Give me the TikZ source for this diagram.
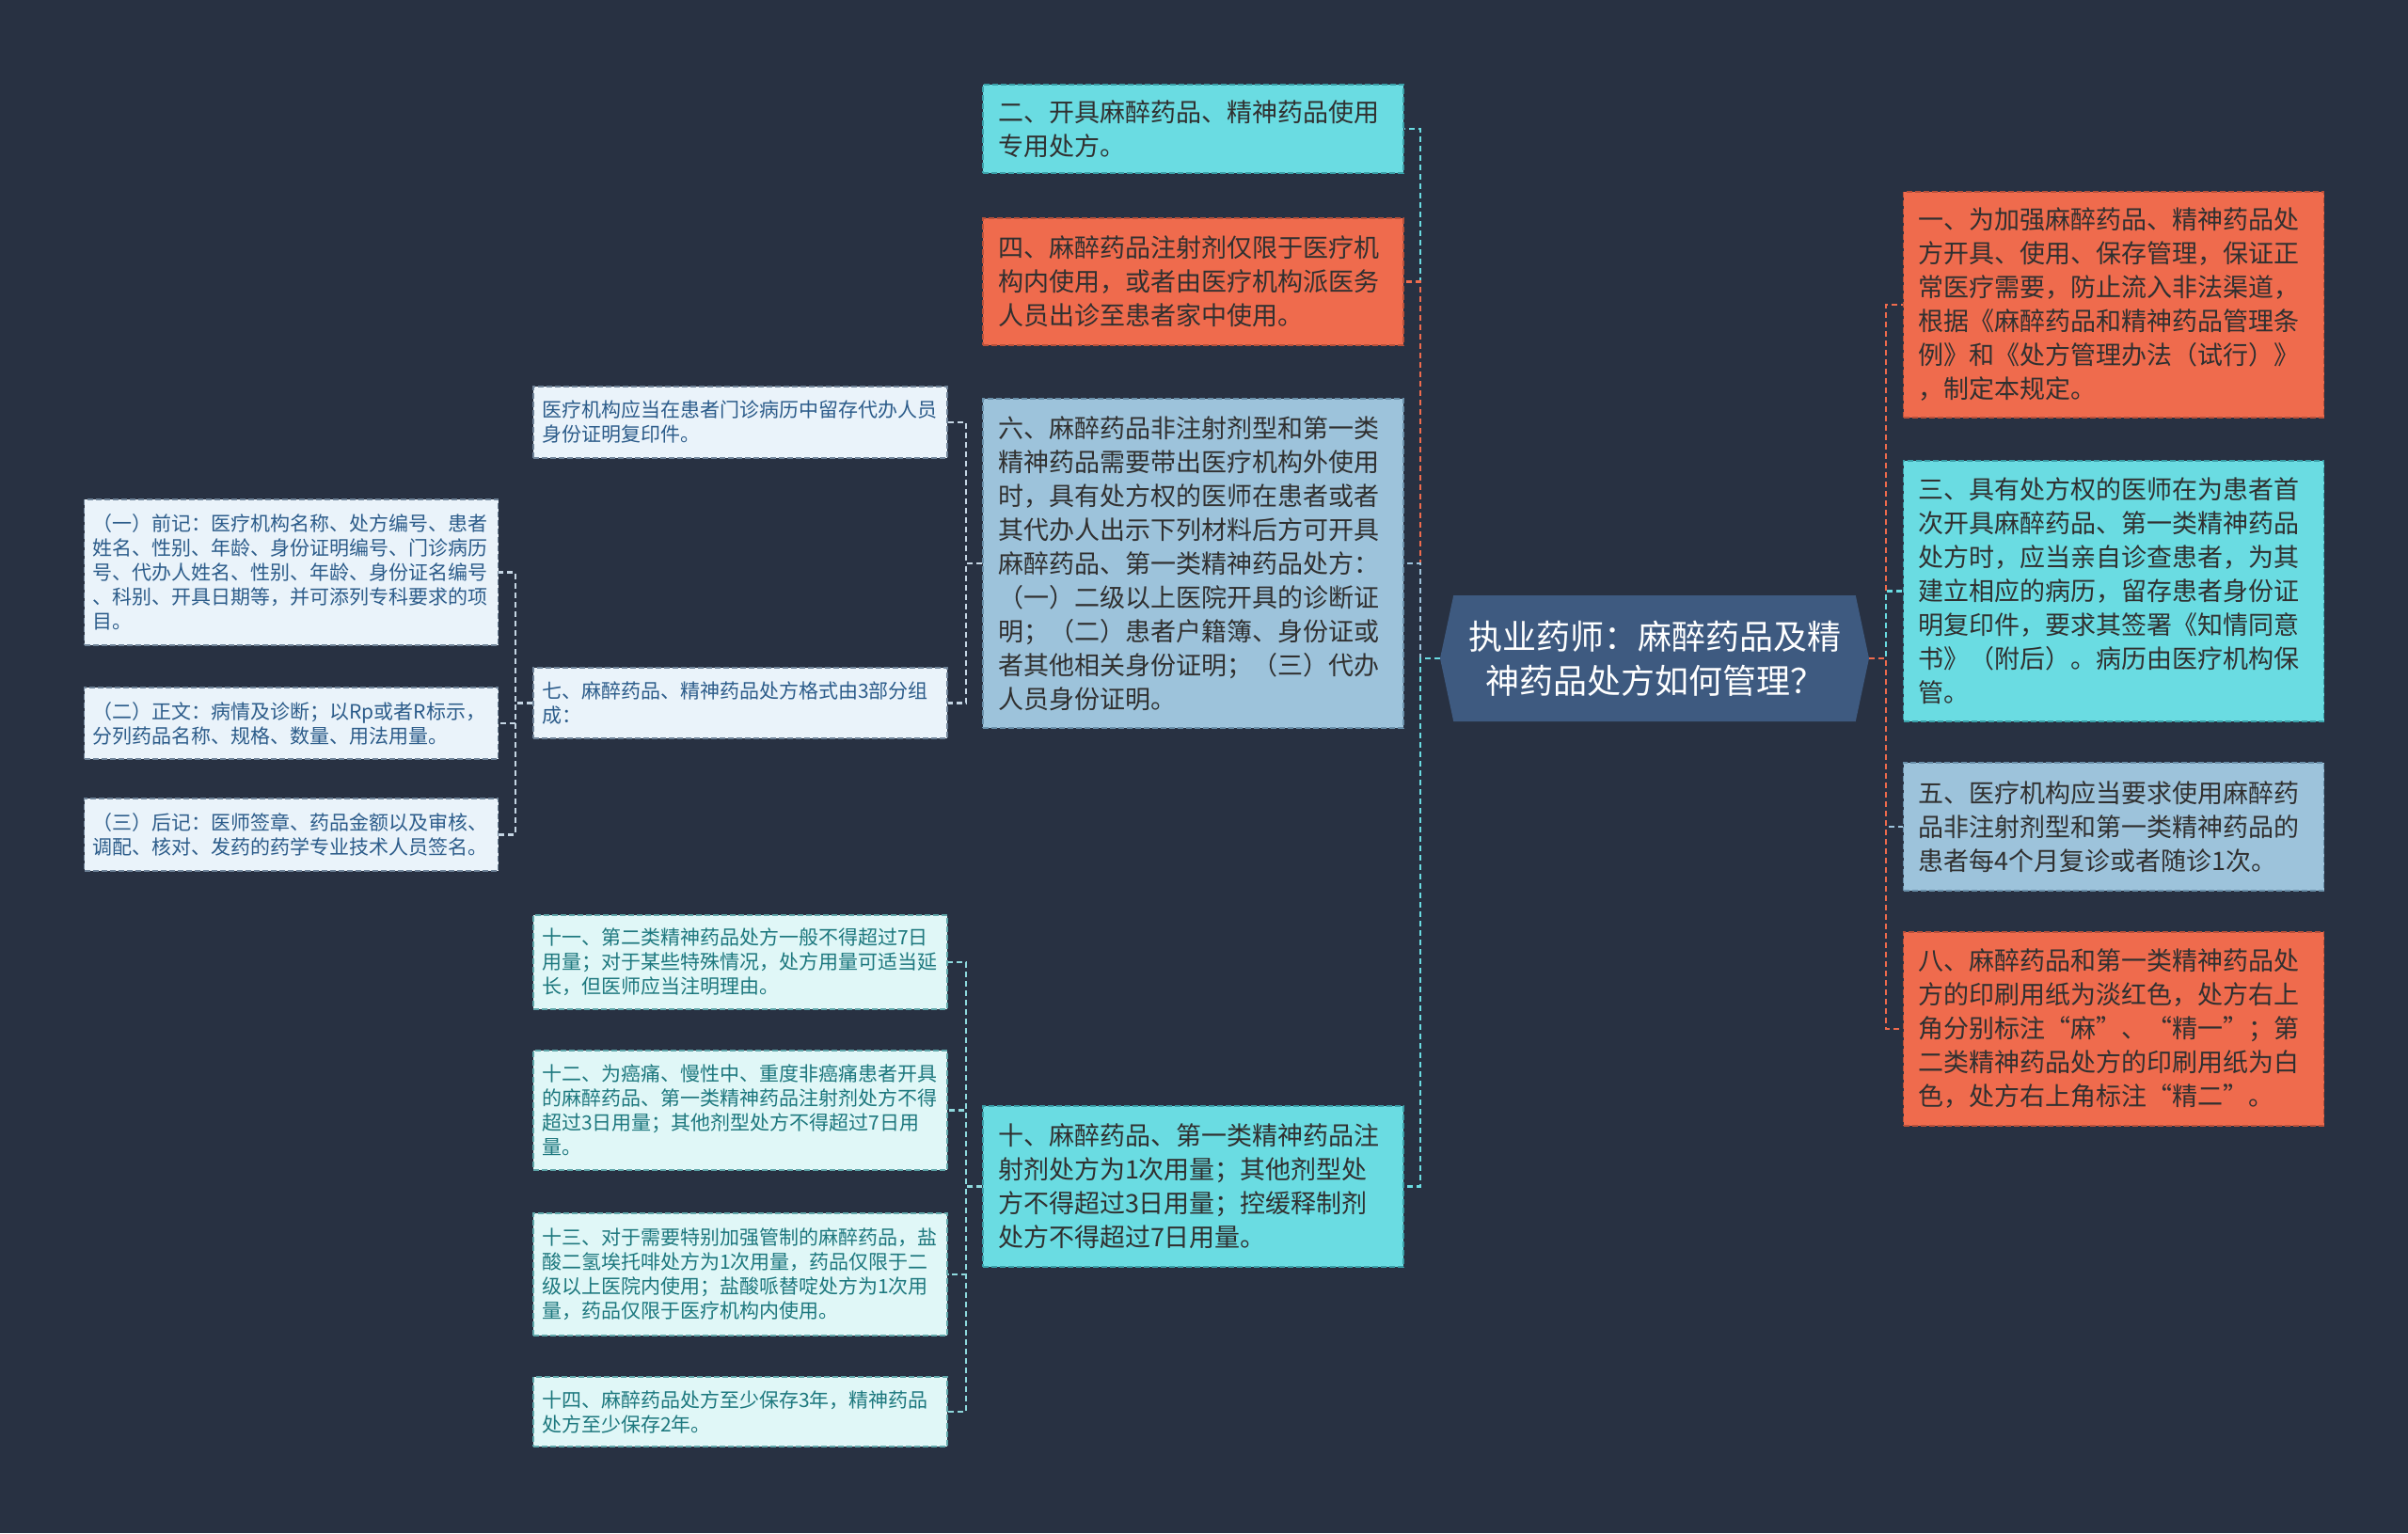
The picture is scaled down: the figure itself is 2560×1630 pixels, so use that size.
\documentclass[tikz,border=0pt]{standalone}
\usepackage{fontspec}
\newfontfamily\cjk{Noto Sans CJK SC}
\usetikzlibrary{shapes.symbols}
\definecolor{bg}{HTML}{283142}
\definecolor{rootfill}{HTML}{3E5A80}
\definecolor{orangefill}{HTML}{EF6B4D}
\definecolor{orangeedge}{HTML}{B8503A}
\definecolor{cyanfill}{HTML}{6ADCE2}
\definecolor{cyanedge}{HTML}{3A9FA8}
\definecolor{bluefill}{HTML}{9DC3DB}
\definecolor{blueedge}{HTML}{6A90AA}
\definecolor{palefill}{HTML}{EAF3FA}
\definecolor{paleedge}{HTML}{6F8398}
\definecolor{paletext}{HTML}{2C5C8A}
\definecolor{mintfill}{HTML}{E0F7F7}
\definecolor{mintedge}{HTML}{5FA7AA}
\definecolor{minttext}{HTML}{1D787E}
\definecolor{darktext}{HTML}{303030}
\definecolor{paleline}{HTML}{C6D6E4}
\definecolor{mintline}{HTML}{8FD9DD}
\begin{document}
\begin{tikzpicture}[x=0.5pt,y=-0.5pt,
    box/.style={draw, dash pattern=on 3pt off 1.5pt, line width=0.7pt, inner sep=0pt, align=left},
    big/.style={box, minimum width=223.5pt, text width=207.5pt, text=darktext, font=\cjk\fontsize{13.5pt}{18pt}\selectfont},
    small/.style={box, minimum width=220pt, text width=211pt, font=\cjk\fontsize{10.5pt}{13pt}\selectfont},
    orangebox/.style={big, fill=orangefill, draw=orangeedge},
    cyanbox/.style={big, fill=cyanfill, draw=cyanedge},
    bluebox/.style={big, fill=bluefill, draw=blueedge},
    palebox/.style={small, fill=palefill, draw=paleedge, text=paletext},
    mintbox/.style={small, fill=mintfill, draw=mintedge, text=minttext},
    rootbox/.style={shape=signal, signal to=west and east, signal pointer angle=156, fill=rootfill, text=white, align=center, inner sep=0pt, minimum width=228pt, minimum height=67pt, font=\cjk\fontsize{18pt}{23.5pt}\selectfont},
    conn/.style={dash pattern=on 3pt off 2pt, line width=1.4pt}]
    \fill[bg] (0,0) rectangle (2560,1630);
    \useasboundingbox (0,0) rectangle (2560,1630);

    \node[rootbox] (root) at (1759,700) {执业药师：麻醉药品及精\\神药品处方如何管理？};

    \node[cyanbox, minimum height=47pt] (b2) at (1268.5,137) {二、开具麻醉药品、精神药品使用\\专用处方。};
    \node[orangebox, minimum height=67.5pt] (b4) at (1268.5,299.5) {四、麻醉药品注射剂仅限于医疗机\\构内使用，或者由医疗机构派医务\\人员出诊至患者家中使用。};
    \node[bluebox, minimum height=175pt] (b6) at (1268.5,599) {六、麻醉药品非注射剂型和第一类\\精神药品需要带出医疗机构外使用\\时，具有处方权的医师在患者或者\\其代办人出示下列材料后方可开具\\麻醉药品、第一类精神药品处方：\\（一）二级以上医院开具的诊断证\\明；（二）患者户籍簿、身份证或\\者其他相关身份证明；（三）代办\\人员身份证明。};
    \node[cyanbox, minimum height=85.5pt] (b10) at (1268.5,1261.5) {十、麻醉药品、第一类精神药品注\\射剂处方为1次用量；其他剂型处\\方不得超过3日用量；控缓释制剂\\处方不得超过7日用量。};

    \node[orangebox, minimum height=120pt] (b1) at (2247,324) {一、为加强麻醉药品、精神药品处\\方开具、使用、保存管理，保证正\\常医疗需要，防止流入非法渠道，\\根据《麻醉药品和精神药品管理条\\例》和《处方管理办法（试行）》\\，制定本规定。};
    \node[cyanbox, minimum height=138.5pt] (b3) at (2247,628.5) {三、具有处方权的医师在为患者首\\次开具麻醉药品、第一类精神药品\\处方时，应当亲自诊查患者，为其\\建立相应的病历，留存患者身份证\\明复印件，要求其签署《知情同意\\书》（附后）。病历由医疗机构保\\管。};
    \node[bluebox, minimum height=68pt] (b5) at (2247,879) {五、医疗机构应当要求使用麻醉药\\品非注射剂型和第一类精神药品的\\患者每4个月复诊或者随诊1次。};
    \node[orangebox, minimum height=103pt] (b8) at (2247,1094) {八、麻醉药品和第一类精神药品处\\方的印刷用纸为淡红色，处方右上\\角分别标注“麻”、“精一”；第\\二类精神药品处方的印刷用纸为白\\色，处方右上角标注“精二”。};

    \node[palebox, minimum height=38pt] (c1) at (787,449) {医疗机构应当在患者门诊病历中留存代办人员\\身份证明复印件。};
    \node[palebox, minimum height=37.5pt] (b7) at (787,747.5) {七、麻醉药品、精神药品处方格式由3部分组\\成：};
    \node[mintbox, minimum height=50pt] (b11) at (787,1023) {十一、第二类精神药品处方一般不得超过7日\\用量；对于某些特殊情况，处方用量可适当延\\长，但医师应当注明理由。};
    \node[mintbox, minimum height=63.5pt] (b12) at (787,1180.5) {十二、为癌痛、慢性中、重度非癌痛患者开具\\的麻醉药品、第一类精神药品注射剂处方不得\\超过3日用量；其他剂型处方不得超过7日用\\量。};
    \node[mintbox, minimum height=65pt] (b13) at (787,1355) {十三、对于需要特别加强管制的麻醉药品，盐\\酸二氢埃托啡处方为1次用量，药品仅限于二\\级以上医院内使用；盐酸哌替啶处方为1次用\\量，药品仅限于医疗机构内使用。};
    \node[mintbox, minimum height=37pt] (b14) at (787,1501) {十四、麻醉药品处方至少保存3年，精神药品\\处方至少保存2年。};

    \node[palebox, minimum height=77.5pt] (d1) at (309.5,608.5) {（一）前记：医疗机构名称、处方编号、患者\\姓名、性别、年龄、身份证明编号、门诊病历\\号、代办人姓名、性别、年龄、身份证名编号\\、科别、开具日期等，并可添列专科要求的项\\目。};
    \node[palebox, minimum height=38pt] (d2) at (309.5,769) {（二）正文：病情及诊断；以Rp或者R标示，\\分列药品名称、规格、数量、用法用量。};
    \node[palebox, minimum height=38.5pt] (d3) at (309.5,887.5) {（三）后记：医师签章、药品金额以及审核、\\调配、核对、发药的药学专业技术人员签名。};

    \coordinate (tl) at (1510,700);
    \coordinate (tr) at (2005,700);
    \coordinate (t6) at (1027,599);
    \coordinate (t10) at (1027,1261.5);
    \coordinate (t7) at (548,747.5);

    \draw[conn, cyanfill] (root.west) -- (tl) |- (b2);
    \draw[conn, orangefill] (root.west) -- (tl) |- (b4);
    \draw[conn, bluefill] (root.west) -- (tl) |- (b6);
    \draw[conn, cyanfill] (root.west) -- (tl) |- (b10);

    \draw[conn, orangefill] (root.east) -- (tr) |- (b1);
    \draw[conn, cyanfill] (root.east) -- (tr) |- (b3);
    \draw[conn, bluefill] (root.east) -- (tr) |- (b5);
    \draw[conn, orangefill] (root.east) -- (tr) |- (b8);

    \draw[conn, paleline] (b6.west) -- (t6) |- (c1);
    \draw[conn, paleline] (b6.west) -- (t6) |- (b7);

    \draw[conn, mintline] (b10.west) -- (t10) |- (b11);
    \draw[conn, mintline] (b10.west) -- (t10) |- (b12);
    \draw[conn, mintline] (b10.west) -- (t10) |- (b13);
    \draw[conn, mintline] (b10.west) -- (t10) |- (b14);

    \draw[conn, paleline] (b7.west) -- (t7) |- (d1);
    \draw[conn, paleline] (b7.west) -- (t7) |- (d2);
    \draw[conn, paleline] (b7.west) -- (t7) |- (d3);
\end{tikzpicture}
\end{document}
